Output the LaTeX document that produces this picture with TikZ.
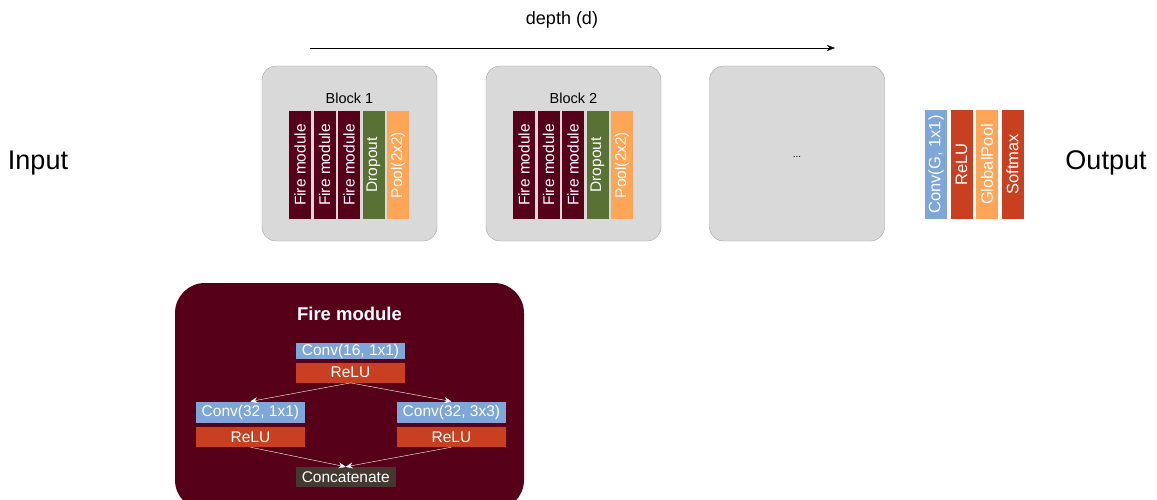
\documentclass[tikz,border=0pt]{standalone}
\usepackage{fontspec}
\setmainfont{Liberation Sans}
\usetikzlibrary{positioning,arrows.meta}
\definecolor{blockgray}{HTML}{D9D9D9}
\definecolor{blockedge}{HTML}{A0A0A0}
\definecolor{firered}{HTML}{56001A}
\definecolor{dropgreen}{HTML}{5A7135}
\definecolor{poolorange}{HTML}{FFA557}
\definecolor{convblue}{HTML}{7EA6D8}
\definecolor{relured}{HTML}{C8401F}
\definecolor{catgray}{HTML}{433931}

\begin{document}
\begin{tikzpicture}[x=1pt,y=-1pt,
    block/.style ={
        draw=blockedge,
        fill=blockgray,
        rounded corners=14pt,
        minimum width=175pt,
        minimum height=175pt
    },
    bar/.style ={
        rotate=90,
        text=white,
        inner sep=0pt,
        minimum width=108pt,
        minimum height=22pt,
        font=\fontsize{15.5}{18}\selectfont
    },
    layer/.style ={
        text=white,
        inner sep=0pt,
        minimum width=109pt,
        minimum height=20pt,
        font=\fontsize{15.5}{18}\selectfont
    },
    flow/.style ={
        white,
        -{Stealth[length=7pt,width=6pt]}
    }
    ]
    \useasboundingbox (0,0) rectangle (1157,500);

    % depth arrow
    \node[font=\fontsize{18}{21}\selectfont] (depth) at (562,20) {depth (d)};
    \coordinate (d0) at (310,48);
    \coordinate (d1) at (835,48);
    \draw[-{Stealth[length=8pt,width=6pt]}] (d0) -- (d1);

    \node[font=\fontsize{27}{32}\selectfont] (input) at (38,163) {Input};
    \node[font=\fontsize{27}{32}\selectfont] (output) at (1106,163) {Output};

    % blocks
    \foreach \b/ \bx/ \lab in {1/349.5/Block 1, 2/573.5/Block 2, 3/797/}
    {
        \node[block] (block\b) at (\bx,153.5) {};
        \node[font=\fontsize{14.5}{17}\selectfont] (title\b) at (\bx,98) {\lab};
    }
    \node[font=\fontsize{10}{12}\selectfont] (dots) at (797,157) {...};

    \foreach \b/ \off in {1/0, 2/224}
        \foreach \i/ \lab/ \col in {1/Fire module/firered, 2/Fire module/firered, 3/Fire module/firered,
                                    4/Dropout/dropgreen, 5/Pool(2x2)/poolorange}
            \node[bar, fill=\col] (b\b l\i) at ({275.5+24.5*\i+\off},165) {\lab};

    % output layers
    \foreach \i/ \x/ \lab/ \col in {1/936/{Conv(G, 1x1)}/convblue, 2/961.5/ReLU/relured,
                                    3/987/GlobalPool/poolorange, 4/1012.5/Softmax/relured}
        \node[bar, fill=\col, minimum width=109pt, font=\fontsize{16.5}{19}\selectfont] (out\i) at (\x,164.5) {\lab};

    % fire module
    \fill[firered, rounded corners=30pt] (175,283) rectangle (524,510);
    \node[text=white, font=\bfseries\fontsize{18.5}{22}\selectfont] (firetitle) at (349.5,314) {Fire module};

    \node[layer, fill=convblue, minimum height=16.5pt] (squeeze) at (350.5,351) {Conv(16, 1x1)};
    \node[layer, fill=relured] (squeezerelu) at (350.5,372.7) {ReLU};
    \node[layer, fill=convblue, minimum height=21.5pt] (expandA) at (250.4,412.4) {Conv(32, 1x1)};
    \node[layer, fill=relured] (expandArelu) at (250.4,437) {ReLU};
    \node[layer, fill=convblue, minimum height=21.5pt] (expandB) at (451.4,412.4) {Conv(32, 3x3)};
    \node[layer, fill=relured] (expandBrelu) at (451.4,437) {ReLU};
    \node[layer, fill=catgray, minimum width=100pt] (concat) at (345.7,477) {Concatenate};

    \draw[flow] (squeezerelu.south) -- (expandA.north);
    \draw[flow] (squeezerelu.south) -- (expandB.north);
    \draw[flow] (expandArelu.south) -- (concat.north);
    \draw[flow] (expandBrelu.south) -- (concat.north);
\end{tikzpicture}
\end{document}
